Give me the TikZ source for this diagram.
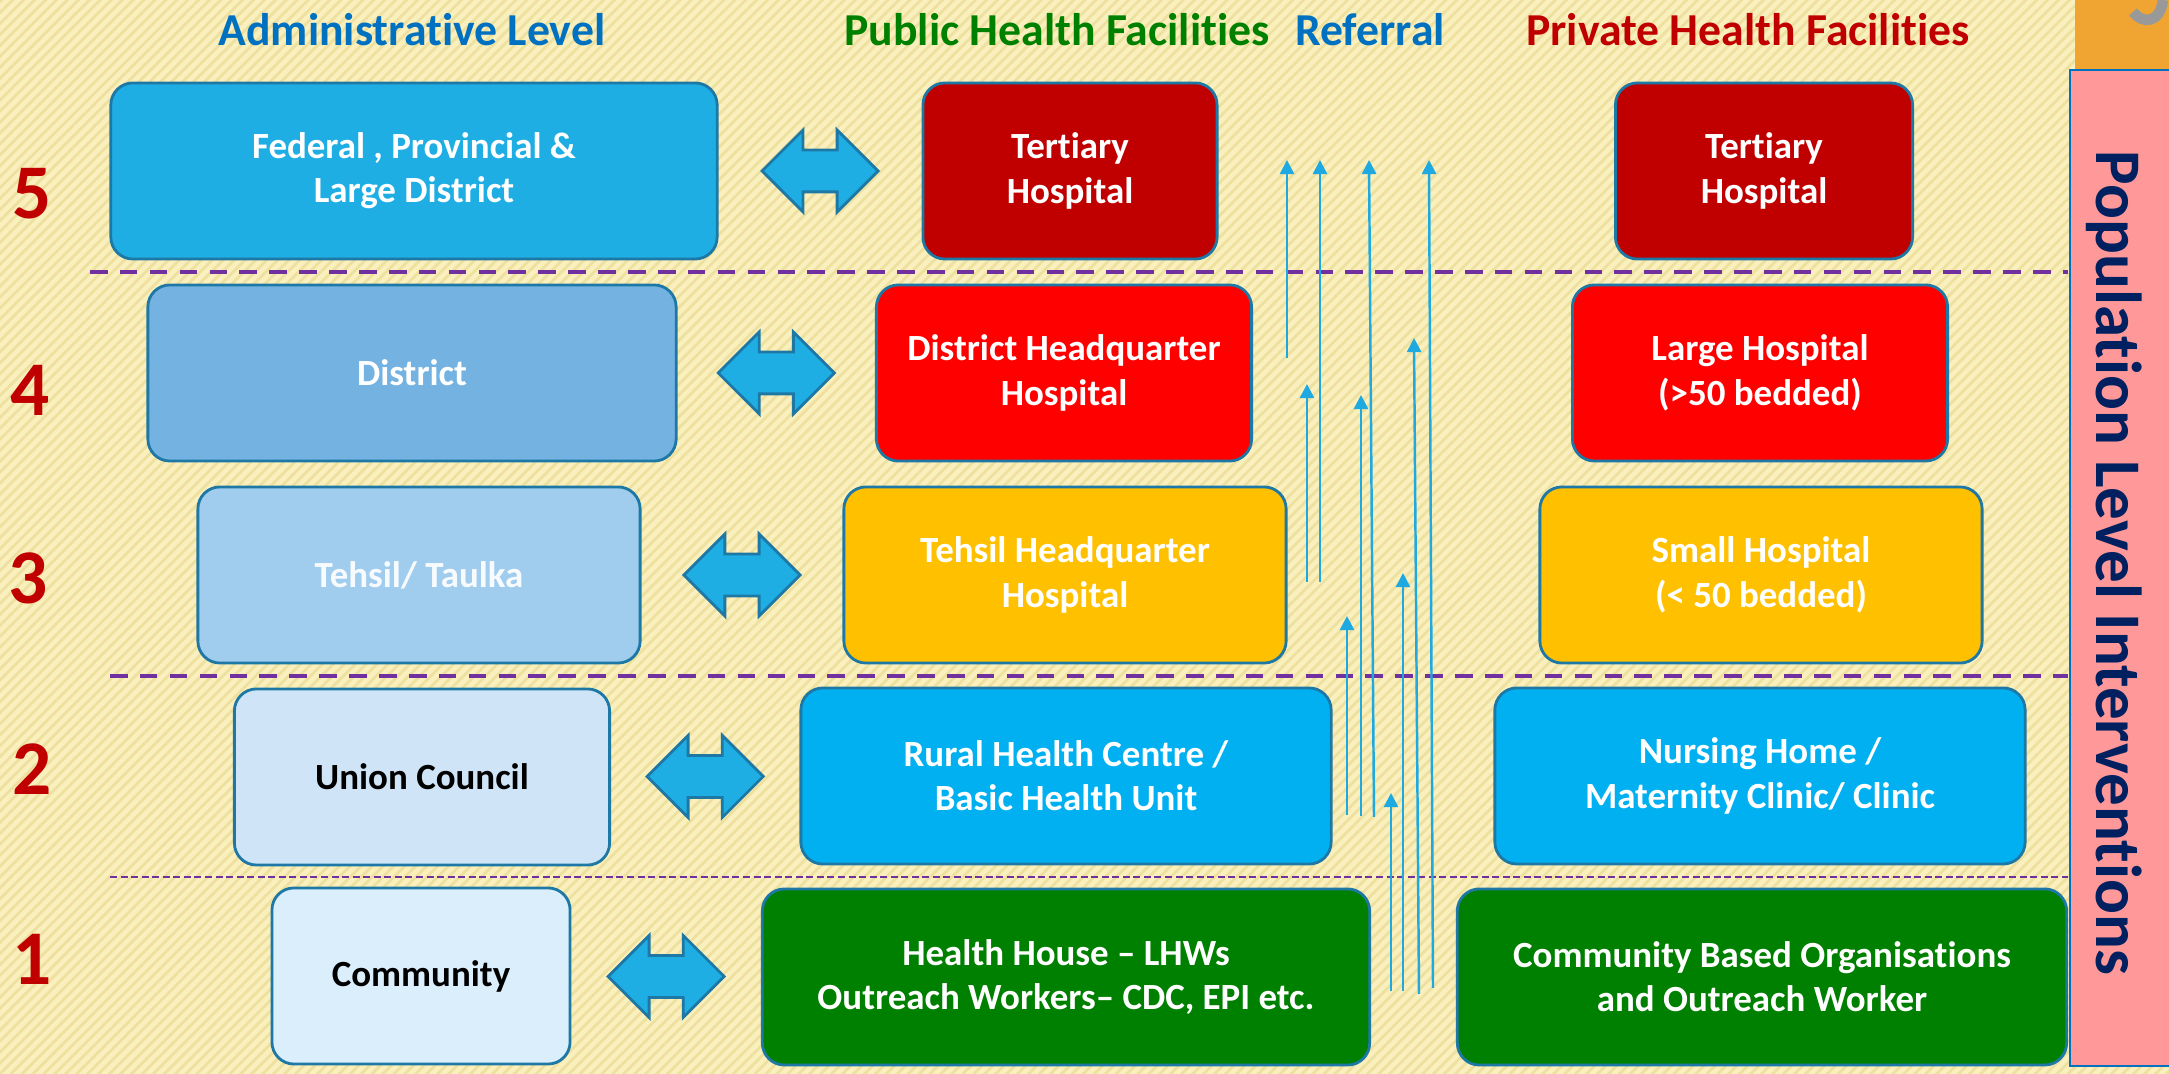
\documentclass[tikz,border=0pt]{standalone}
\usepackage{fontspec}
\setmainfont{Carlito}[Ligatures=NoCommon]
\usetikzlibrary{arrows.meta, calc, shapes.arrows, patterns.meta}
\definecolor{bgyellow}{RGB}{250,240,190}
\definecolor{stripe}{RGB}{238,224,158}
\definecolor{boxline}{RGB}{30,120,165}
\definecolor{admin5}{RGB}{30,174,228}
\definecolor{admin4}{RGB}{116,178,226}
\definecolor{admin3}{RGB}{160,204,238}
\definecolor{admin2}{RGB}{207,228,246}
\definecolor{admin1}{RGB}{218,238,251}
\definecolor{tertiary}{RGB}{192,0,0}
\definecolor{dhq}{RGB}{255,0,0}
\definecolor{thq}{RGB}{255,192,0}
\definecolor{rhc}{RGB}{0,176,240}
\definecolor{hhouse}{RGB}{0,128,0}
\definecolor{levelred}{RGB}{192,0,0}
\definecolor{titleblue}{RGB}{0,112,192}
\definecolor{titlegreen}{RGB}{0,128,0}
\definecolor{dashpurple}{RGB}{112,48,160}
\definecolor{refblue}{RGB}{30,170,225}
\definecolor{popnavy}{RGB}{0,32,96}
\definecolor{poppink}{RGB}{255,153,153}
\definecolor{orangebar}{RGB}{240,165,50}
\tikzset{>={Triangle[width=4pt,length=4pt]}}
\tikzset{
  unit/.style={draw=boxline, line width=0.8pt, rounded corners=0.22cm,
    minimum height=1.76cm, align=center, text=white,
    font=\fontsize{10.5}{12.6}\selectfont\bfseries},
  level/.style={text=levelred, font=\fontsize{22}{26}\selectfont\bfseries},
  heading/.style={font=\fontsize{13}{15}\selectfont\bfseries},
  linkarrow/.style={double arrow, draw=boxline, fill=admin5, line width=0.8pt,
    minimum height=1.16cm, minimum width=0.8cm, inner xsep=0pt, inner ysep=0.195cm,
    double arrow head extend=0.2cm},
  levelline/.style={dashpurple, line width=1.2pt, dash pattern=on 5pt off 3.5pt},
  thinline/.style={dashpurple, line width=0.35pt, dash pattern=on 2pt off 1pt},
  referral/.style={->, refblue, line width=0.7pt}
}
\begin{document}
\begin{tikzpicture}[x=0.01cm, y=-0.01cm]
\useasboundingbox (0,0) rectangle (2169,1074);
\fill[bgyellow] (0,0) rectangle (2169,1074);
\fill[pattern={Lines[angle=45,distance=2.2pt,line width=0.8pt]}, pattern color=stripe] (0,0) rectangle (2169,1074);

\fill[orangebar] (2075,0) rectangle (2169,70);
\draw[gray!80, line width=3pt] (2133,12) .. controls (2142,24) and (2160,24) .. (2163,0);
\draw[fill=poppink, draw=titleblue, line width=0.8pt] (2070,70) rectangle (2190,1066);
\node[rotate=-90, text=popnavy, font=\fontsize{18.5}{22}\selectfont\bfseries] (pop) at (2114,563) {Population Level Interventions};

\node[heading, text=titleblue] (hadmin) at (412,30) {Administrative Level};
\node[heading, text=titlegreen] (hpublic) at (1057,30) {Public Health Facilities};
\node[heading, text=titleblue] (hreferral) at (1370,30) {Referral};
\node[heading, text=levelred] (hprivate) at (1748,30) {Private Health Facilities};

\node[level] (l5) at (32,194) {5};
\node[level] (l4) at (30,390) {4};
\node[level] (l3) at (28,578) {3};
\node[level] (l2) at (32,769) {2};
\node[level] (l1) at (32,959) {1};

\draw[levelline] (90,272) -- (2068,272);
\draw[levelline] (110,676) -- (2068,676);
\draw[thinline] (110,877) -- (2068,877);

\node[unit, fill=admin5, minimum width=6.06cm] (fed) at (414,171) {Federal , Provincial \&\\Large District};
\node[unit, fill=admin4, minimum width=5.28cm] (dist) at (412,373) {District};
\node[unit, fill=admin3, minimum width=4.42cm, text=white!92!admin3] (tehsil) at (419,575) {Tehsil/ Taulka};
\node[unit, fill=admin2, minimum width=3.75cm, text=black] (uc) at (422,777) {Union Council};
\node[unit, fill=admin1, minimum width=2.98cm, text=black] (comm) at (421,976) {Community};

\node[unit, fill=tertiary, minimum width=2.94cm] (pub5) at (1070,171) {Tertiary\\Hospital};
\node[unit, fill=dhq, minimum width=3.75cm] (pub4) at (1064,373) {District Headquarter\\Hospital};
\node[unit, fill=thq, minimum width=4.42cm] (pub3) at (1065,575) {Tehsil Headquarter\\Hospital};
\node[unit, fill=rhc, minimum width=5.30cm] (pub2) at (1066,776) {Rural Health Centre /\\Basic Health Unit};
\node[unit, fill=hhouse, minimum width=6.07cm] (pub1) at (1066,977) {Health House -- LHWs\\Outreach Workers-- CDC, EPI etc.};

\node[unit, fill=tertiary, minimum width=2.97cm] (pri5) at (1764,171) {Tertiary\\Hospital};
\node[unit, fill=dhq, minimum width=3.75cm] (pri4) at (1760,373) {Large Hospital\\(>50 bedded)};
\node[unit, fill=thq, minimum width=4.42cm] (pri3) at (1761,575) {Small Hospital\\(< 50 bedded)};
\node[unit, fill=rhc, minimum width=5.30cm] (pri2) at (1760,776) {Nursing Home /\\Maternity Clinic/ Clinic};
\node[unit, fill=hhouse, minimum width=6.09cm] (pri1) at (1762,977) {Community Based Organisations\\and Outreach Worker};

\node[linkarrow] (link5) at ($(fed.east)!0.5!(pub5.west)$) {};
\node[linkarrow] (link4) at ($(dist.east)!0.5!(pub4.west)$) {};
\node[linkarrow] (link3) at ($(tehsil.east)!0.5!(pub3.west)$) {};
\node[linkarrow] (link2) at ($(uc.east)!0.5!(pub2.west)$) {};
\node[linkarrow] (link1) at ($(comm.east)!0.5!(pub1.west)$) {};

\coordinate (ra0) at (1287,358);  \coordinate (ra1) at (1287,160);
\coordinate (rb0) at (1320,582);  \coordinate (rb1) at (1320,160);
\coordinate (rc0) at (1374,817);  \coordinate (rc1) at (1369,160);
\coordinate (rd0) at (1433,988);  \coordinate (rd1) at (1429,160);
\coordinate (re0) at (1307,582);  \coordinate (re1) at (1307,384);
\coordinate (rf0) at (1361,816);  \coordinate (rf1) at (1361,395);
\coordinate (rg0) at (1419,994);  \coordinate (rg1) at (1414,338);
\coordinate (rh0) at (1347,815);  \coordinate (rh1) at (1347,616);
\coordinate (ri0) at (1403,991);  \coordinate (ri1) at (1403,573);
\coordinate (rj0) at (1391,991);  \coordinate (rj1) at (1391,793);
\draw[referral] (ra0) -- (ra1);
\draw[referral] (rb0) -- (rb1);
\draw[referral] (rc0) -- (rc1);
\draw[referral] (rd0) -- (rd1);
\draw[referral] (re0) -- (re1);
\draw[referral] (rf0) -- (rf1);
\draw[referral] (rg0) -- (rg1);
\draw[referral] (rh0) -- (rh1);
\draw[referral] (ri0) -- (ri1);
\draw[referral] (rj0) -- (rj1);
\end{tikzpicture}
\end{document}
